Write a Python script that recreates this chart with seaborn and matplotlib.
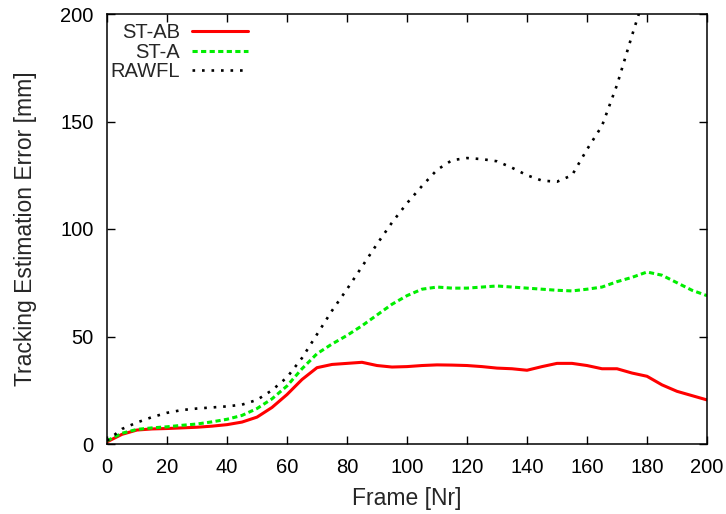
import matplotlib
matplotlib.use("Agg")
import matplotlib.pyplot as plt
import seaborn as sns
import pandas as pd

frames = list(range(0, 201, 5))
st_ab = [1, 4.5, 6.5, 7, 7.2, 7.5, 7.8, 8.3, 9, 10.2, 12.5, 17, 23, 30, 35.5, 37, 37.5, 38,
         36.5, 35.8, 36, 36.5, 36.8, 36.7, 36.5, 36, 35.3, 35, 34.3, 36, 37.5, 37.5, 36.5,
         35, 35, 33, 31.5, 27.5, 24.5, 22.5, 20.5]
st_a = [1.5, 5, 6.8, 7.5, 8, 8.7, 9.3, 10.3, 11.5, 13.3, 16.5, 21, 27, 35, 42, 46.5, 50.5, 55,
        60, 65, 69, 72, 73, 72.5, 72.5, 73, 73.5, 73, 72.5, 72, 71.5, 71.2, 72, 73, 75.5,
        77.5, 80, 78.5, 75, 71.5, 69]
rawfl_frames = list(range(0, 181, 5))
rawfl = [1.5, 7, 10, 12.5, 14.5, 15.8, 16.5, 17, 17.5, 18.3, 20.5, 25, 31, 40, 51, 62, 72,
         82.5, 93, 103, 112, 120, 127.5, 132, 133, 132.5, 131.5, 128.5, 125, 122.5, 122,
         125, 137, 148, 167, 190, 212]

x_ticks = list(range(0, 201, 20))
y_ticks = [0, 50, 100, 150, 200]

sns.set_theme(style="ticks")
plt.rcParams['font.family'] = ['Liberation Sans', 'DejaVu Sans']

fig = plt.figure(figsize=(7.26, 5.14), dpi=100)
ax = fig.add_axes([107/726, 1-444/514, 600/726, 430/514])

df_ab = pd.DataFrame({"Frame": frames, "Err": st_ab})
df_a = pd.DataFrame({"Frame": frames, "Err": st_a})
df_r = pd.DataFrame({"Frame": rawfl_frames, "Err": rawfl})

lw = 2.2
sns.lineplot(data=df_ab, x="Frame", y="Err", ax=ax, color="#ff0000", lw=lw, label="ST-AB")
sns.lineplot(data=df_a, x="Frame", y="Err", ax=ax, color="#00ee00", lw=lw, label="ST-A")
sns.lineplot(data=df_r, x="Frame", y="Err", ax=ax, color="black", lw=1.9, label="RAWFL")
lines = ax.get_lines()
lines[1].set_dashes([1.7, 1.1])
lines[2].set_dashes([1.0, 2.6])

ax.set_xlim(0, 200)
ax.set_ylim(0, 200)
ax.set_xticks(x_ticks)
ax.set_yticks(y_ticks)
ax.tick_params(direction="in", length=6, width=1, top=True, right=True,
               labelsize=14.5, colors="black")
ax.tick_params(axis="y", pad=9.5)
ax.tick_params(axis="x", pad=10)
for s in ax.spines.values():
    s.set_visible(True)
    s.set_linewidth(1.1)
    s.set_color("black")
ax.set_xlabel("Frame [Nr]", fontsize=16.5, labelpad=7)
ax.set_ylabel("Tracking Estimation Error [mm]", fontsize=16.5, labelpad=17)

leg = ax.legend(loc="upper left", markerfirst=False, frameon=False, fontsize=14.5,
                handlelength=2.8, handletextpad=0.6, labelspacing=0.02,
                borderaxespad=0.0, bbox_to_anchor=(-0.008, 0.997))
try:
    for col in leg._legend_handle_box.get_children():
        col.align = "right"
except Exception:
    pass

fig.savefig("out.png", dpi=100)
